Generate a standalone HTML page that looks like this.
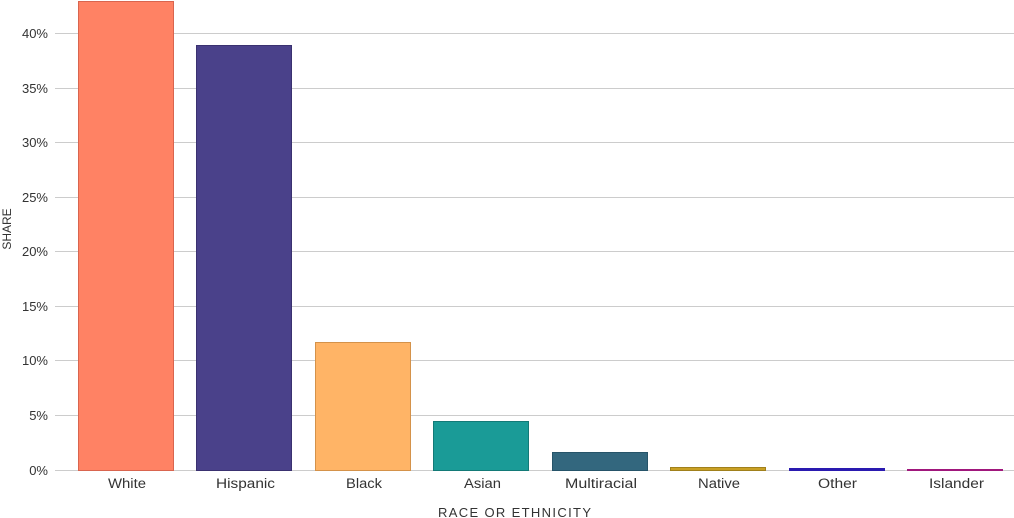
<!DOCTYPE html>
<html><head><meta charset="utf-8"><style>
html,body{margin:0;padding:0;background:#fff;}
svg{display:block;}
text{font-family:"Liberation Sans","DejaVu Sans",sans-serif;fill:#333;}
</style></head><body>
<svg width="1014" height="518" viewBox="0 0 1014 518" xmlns="http://www.w3.org/2000/svg">
<g stroke="#cccccc" stroke-width="1">
<line x1="55" x2="1014" y1="470.5" y2="470.5"/>
<line x1="55" x2="1014" y1="415.5" y2="415.5"/>
<line x1="55" x2="1014" y1="360.5" y2="360.5"/>
<line x1="55" x2="1014" y1="306.5" y2="306.5"/>
<line x1="55" x2="1014" y1="251.5" y2="251.5"/>
<line x1="55" x2="1014" y1="197.5" y2="197.5"/>
<line x1="55" x2="1014" y1="142.5" y2="142.5"/>
<line x1="55" x2="1014" y1="88.5" y2="88.5"/>
<line x1="55" x2="1014" y1="33.5" y2="33.5"/>
</g>
<g font-size="13" text-anchor="end">
<text x="48" y="475">0%</text>
<text x="48" y="420">5%</text>
<text x="48" y="365">10%</text>
<text x="48" y="311">15%</text>
<text x="48" y="256">20%</text>
<text x="48" y="202">25%</text>
<text x="48" y="147">30%</text>
<text x="48" y="93">35%</text>
<text x="48" y="38">40%</text>
</g>
<text font-size="12" text-anchor="middle" transform="translate(11,229) rotate(-90)">SHARE</text>
<g stroke-width="1">
<rect x="78.5" y="1.5" width="95" height="469" fill="#ff8264" stroke="#d9654f"/>
<rect x="196.5" y="45.5" width="95" height="425" fill="#4a418a" stroke="#3a3170"/>
<rect x="315.5" y="342.5" width="95" height="128" fill="#ffb466" stroke="#d4924a"/>
<rect x="433.5" y="421.5" width="95" height="49" fill="#1a9b97" stroke="#137a77"/>
<rect x="552.5" y="452.5" width="95" height="18" fill="#33677e" stroke="#265469"/>
<rect x="670.5" y="467.5" width="95" height="3" fill="#c9a024" stroke="#a0801c"/>
<rect x="789" y="468" width="96" height="3" fill="#2a1ab0"/>
<rect x="907" y="469" width="96" height="2" fill="#a0177c"/>
</g>
<g font-size="13.5">
<text x="108" y="488" textLength="38" lengthAdjust="spacingAndGlyphs">White</text>
<text x="216" y="488" textLength="59" lengthAdjust="spacingAndGlyphs">Hispanic</text>
<text x="346" y="488" textLength="36" lengthAdjust="spacingAndGlyphs">Black</text>
<text x="464" y="488" textLength="37" lengthAdjust="spacingAndGlyphs">Asian</text>
<text x="565" y="488" textLength="72" lengthAdjust="spacingAndGlyphs">Multiracial</text>
<text x="698" y="488" textLength="42" lengthAdjust="spacingAndGlyphs">Native</text>
<text x="818" y="488" textLength="39" lengthAdjust="spacingAndGlyphs">Other</text>
<text x="929" y="488" textLength="55" lengthAdjust="spacingAndGlyphs">Islander</text>
</g>
<text x="438" y="517" font-size="13" textLength="153" lengthAdjust="spacing">RACE OR ETHNICITY</text>
</svg>
</body></html>
